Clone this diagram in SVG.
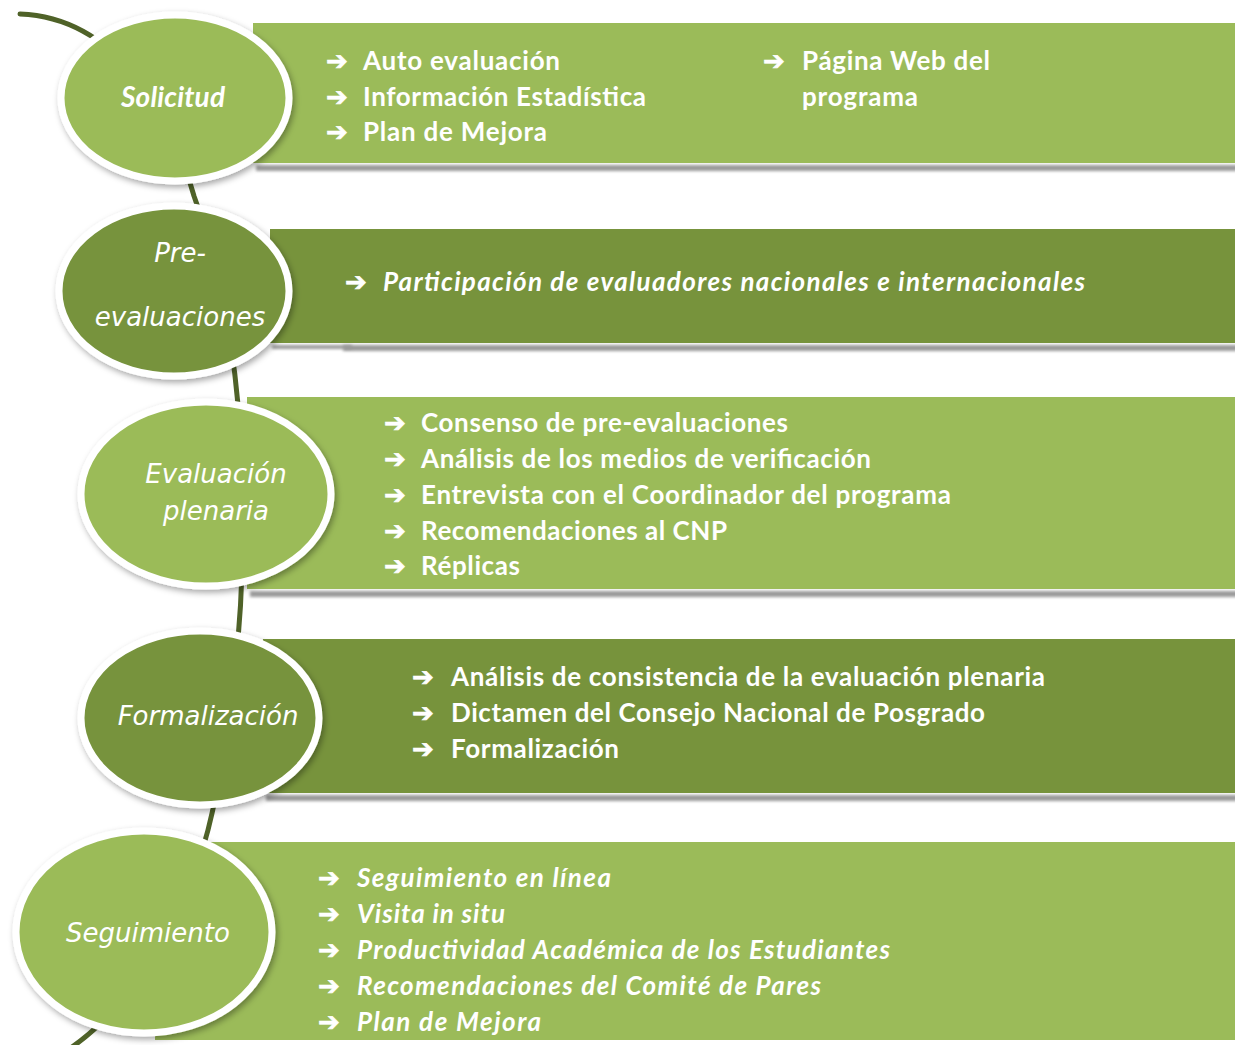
<svg xmlns="http://www.w3.org/2000/svg" width="1235" height="1045" viewBox="0 0 1235 1045">
<style>
.light{fill:#9BBB59}
.dark{fill:#77933C}
.circ{stroke:#FFFFFF;stroke-width:7;filter:url(#cshadow)}
.bshadow{fill:#9A9A9A;filter:url(#blur)}
.lbl{font-family:"DejaVu Sans",sans-serif;font-style:italic;font-size:26px;fill:#FFFFFF;text-anchor:middle}
.sol{font-family:Lato,"Liberation Sans",sans-serif;font-weight:bold;font-size:28px}
.item{font-family:Lato,"Liberation Sans",sans-serif;font-weight:bold;font-size:26px;fill:#FFFFFF}
.it{font-style:italic}
.arr{font-family:"DejaVu Sans",sans-serif;font-size:26px;font-weight:bold;fill:#FFFFFF;stroke:#FFFFFF;stroke-width:0.7}
.conn{fill:none;stroke:#4F6228;stroke-width:5;stroke-linecap:round}
</style>
<defs>
<filter id="cshadow" x="-20%" y="-20%" width="140%" height="140%">
<feDropShadow dx="2" dy="3" stdDeviation="3" flood-color="#000000" flood-opacity="0.35"/>
</filter>
<filter id="blur" x="-5%" y="-100%" width="110%" height="300%">
<feGaussianBlur stdDeviation="1.8"/>
</filter>
</defs>
<rect width="1235" height="1045" fill="#FFFFFF"/>
<g id="connectors">
<path class="conn" d="M20,14 C120,18 172,118 194,196 C232,300 243,420 243,520 C243,640 228,750 208,830 C182,930 125,1010 72,1047"/>
</g>
<g id="solicitud">
<rect class="bshadow" x="256" y="165" width="985" height="6"/>
<rect class="light" x="253" y="23" width="985" height="140"/>
<ellipse class="light circ" cx="175" cy="98" rx="114" ry="83"/>
<text class="lbl sol" x="173" y="107" textLength="104">Solicitud</text>
<text class="arr" x="326" y="70">➔</text>
<text class="item" x="363" y="70" textLength="197">Auto evaluación</text>
<text class="arr" x="326" y="106">➔</text>
<text class="item" x="363" y="106" textLength="283">Información Estadística</text>
<text class="arr" x="326" y="141">➔</text>
<text class="item" x="363" y="141" textLength="184">Plan de Mejora</text>
<text class="arr" x="763" y="70">➔</text>
<text class="item" x="802" y="70" textLength="188">Página Web del</text>
<text class="item" x="802" y="106" textLength="116">programa</text>
</g>
<g id="pre-evaluaciones">
<rect class="bshadow" x="343" y="345" width="900" height="6"/>
<rect class="bshadow" x="272" y="345" width="80" height="4"/>
<rect class="dark" x="270" y="229" width="968" height="114"/>
<ellipse class="dark circ" cx="174" cy="291" rx="115" ry="85"/>
<text class="lbl" x="180" y="262">Pre-</text>
<text class="lbl" x="180" y="326">evaluaciones</text>
<text class="arr" x="345" y="291">➔</text>
<text class="item it" x="383" y="291" textLength="702">Participación de evaluadores nacionales e internacionales</text>
</g>
<g id="evaluacion-plenaria">
<rect class="bshadow" x="250" y="591" width="990" height="6"/>
<rect class="light" x="247" y="397" width="991" height="192"/>
<ellipse class="light circ" cx="206" cy="494" rx="125" ry="92"/>
<text class="lbl" x="216" y="483">Evaluación</text>
<text class="lbl" x="216" y="520">plenaria</text>
<text class="arr" x="384" y="432">➔</text>
<text class="item" x="421" y="432" textLength="367">Consenso de pre-evaluaciones</text>
<text class="arr" x="384" y="468">➔</text>
<text class="item" x="421" y="468" textLength="450">Análisis de los medios de verificación</text>
<text class="arr" x="384" y="504">➔</text>
<text class="item" x="421" y="504" textLength="530">Entrevista con el Coordinador del programa</text>
<text class="arr" x="384" y="540">➔</text>
<text class="item" x="421" y="540" textLength="306">Recomendaciones al CNP</text>
<text class="arr" x="384" y="575">➔</text>
<text class="item" x="421" y="575" textLength="99">Réplicas</text>
</g>
<g id="formalizacion">
<rect class="bshadow" x="266" y="795" width="975" height="6"/>
<rect class="dark" x="263" y="639" width="975" height="154"/>
<ellipse class="dark circ" cx="200" cy="718" rx="119" ry="87"/>
<text class="lbl" x="208" y="725">Formalización</text>
<text class="arr" x="412" y="686">➔</text>
<text class="item" x="451" y="686" textLength="594">Análisis de consistencia de la evaluación plenaria</text>
<text class="arr" x="412" y="722">➔</text>
<text class="item" x="451" y="722" textLength="534">Dictamen del Consejo Nacional de Posgrado</text>
<text class="arr" x="412" y="758">➔</text>
<text class="item" x="451" y="758" textLength="168">Formalización</text>
</g>
<g id="seguimiento">
<rect class="light" x="155" y="842" width="1083" height="198"/>
<ellipse class="light circ" cx="144" cy="932" rx="128" ry="101"/>
<text class="lbl" x="148" y="942">Seguimiento</text>
<text class="arr" x="318" y="887">➔</text>
<text class="item it" x="357" y="887" textLength="254">Seguimiento en línea</text>
<text class="arr" x="318" y="923">➔</text>
<text class="item it" x="357" y="923" textLength="148">Visita in situ</text>
<text class="arr" x="318" y="959">➔</text>
<text class="item it" x="357" y="959" textLength="533">Productividad Académica de los Estudiantes</text>
<text class="arr" x="318" y="995">➔</text>
<text class="item it" x="357" y="995" textLength="464">Recomendaciones del Comité de Pares</text>
<text class="arr" x="318" y="1031">➔</text>
<text class="item it" x="357" y="1031" textLength="184">Plan de Mejora</text>
</g>
</svg>
